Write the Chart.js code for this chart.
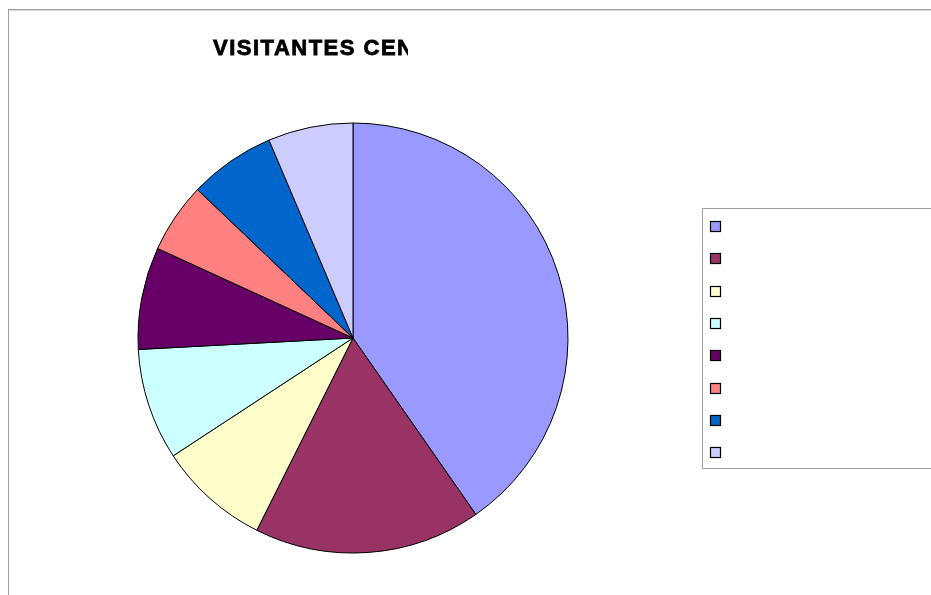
<!DOCTYPE html>
<html><head><meta charset="utf-8">
<script src="https://cdn.jsdelivr.net/npm/chart.js@4"></script>
<style>html,body{margin:0;padding:0;background:#fff;overflow:hidden}#wrap{position:relative;width:931px;height:595px}</style>
</head><body><div id="wrap"><canvas id="c" width="931" height="595"></canvas></div>
<script>
// ─── DATA ─────────────────────────────────────────────
const TITLE='VISITANTES CEN';
// legend texts are cut off in the source picture, so categories stay blank
const categories=['','','','','','','',''];
const visitors=[40.4,17.1,8.4,8.4,7.7,5.3,6.5,6.4];
const sliceColors=['#9999FF','#993366','#FFFFCC','#CCFFFF','#660066','#FF8080','#0066CC','#CCCCFF'];

// ─── PLUGINS ──────────────────────────────────────────
// frame lines + clipped title + boxed legend (labels clipped)
const xlsDecor={id:'xlsDecor',
  beforeDraw(chart){const ctx=chart.ctx;ctx.save();
    ctx.fillStyle='#a0a0a0';ctx.fillRect(8,9,923,1);ctx.fillRect(8,9,1,586);
    ctx.fillStyle='#d4d4d4';ctx.fillRect(9,10,922,1);
    ctx.restore()},
  afterDraw(chart){const ctx=chart.ctx;ctx.save();
    // title, clipped like the original (heavy, slightly stroked)
    ctx.beginPath();ctx.rect(200,25,208,40);ctx.clip();
    ctx.font='bold 22px "Liberation Sans", Arial, sans-serif';ctx.letterSpacing='1.5px';
    ctx.fillStyle='#000';ctx.strokeStyle='#000';ctx.lineWidth=0.8;ctx.textBaseline='alphabetic';
    ctx.fillText(TITLE,213,54.5);ctx.strokeText(TITLE,213,54.5);
    ctx.restore();
    // legend box
    ctx.save();ctx.strokeStyle='#a0a0a0';ctx.lineWidth=1;
    ctx.beginPath();ctx.moveTo(940,208.5);ctx.lineTo(702.5,208.5);ctx.lineTo(702.5,468.5);ctx.lineTo(940,468.5);ctx.stroke();
    const ds=chart.data.datasets[0];
    chart.data.labels.forEach((lb,i)=>{const y=Math.round(221+i*32.3);
      ctx.fillStyle=ds.backgroundColor[i];ctx.fillRect(710,y,11,11);
      ctx.strokeStyle='#000';ctx.lineWidth=1.2;ctx.strokeRect(710.5,y+0.5,10,10);
      ctx.fillStyle='#000';ctx.font='12px Arial';ctx.textBaseline='middle';ctx.fillText(lb,728,y+6)});
    ctx.restore()}
};

new Chart(document.getElementById('c'),{type:'pie',
  data:{labels:categories,datasets:[{data:visitors,backgroundColor:sliceColors,borderColor:'#000',borderWidth:1,borderAlign:'center'}]},
  options:{responsive:false,animation:false,events:[],
    layout:{padding:{left:137.5,right:362.5,top:122.5,bottom:41.5}},
    plugins:{legend:{display:false},title:{display:false},tooltip:{enabled:false}}},
  plugins:[xlsDecor]});
</script></body></html>
